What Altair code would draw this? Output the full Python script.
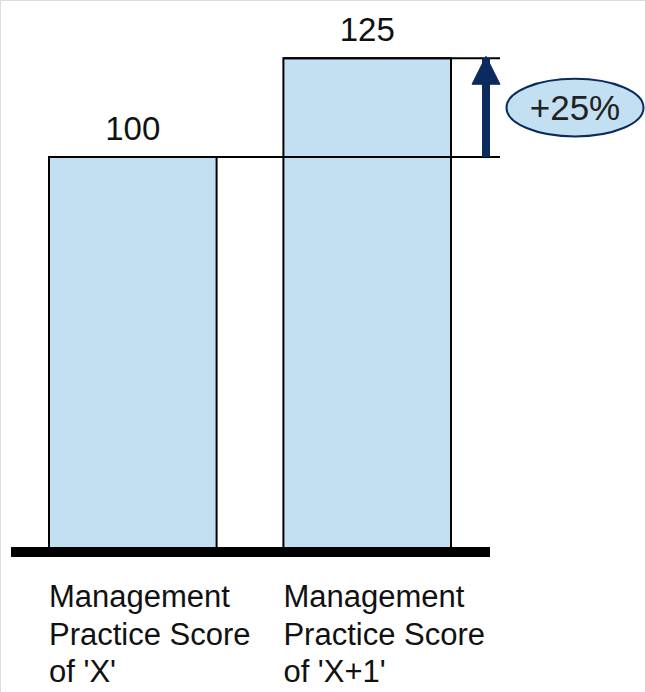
import altair as alt
import pandas as pd

# Categories, scores and the multi-line labels under each bar
categories = ["X", "X+1"]
scores = [100, 125]
labels = [
    "Management\nPractice Score\nof 'X'",
    "Management\nPractice Score\nof 'X+1'",
]

FONT = "Liberation Sans"
BAR_FILL = "#c3dff2"
NAVY = "#0b2a5e"

bars_df = pd.DataFrame({"cat": categories, "score": scores, "label": labels})

base_score, new_score = scores[0], scores[1]
change_df = pd.DataFrame({
    "base": [base_score],
    "new": [new_score],
    "mid": [(base_score + new_score) / 2],
    "pct": [f"+{round((new_score - base_score) / base_score * 100)}%"],
})

x_scale = alt.Scale(domain=categories, range=[49, 451], paddingInner=0.285, paddingOuter=0)
y_scale = alt.Scale(domain=[0, 125], range=[552, 58.25], zero=False, nice=False)

X = alt.X("cat:N", scale=x_scale, axis=None, sort=categories)
X_left = alt.X("cat:N", scale=x_scale, axis=None, sort=categories, bandPosition=0)
Y = alt.Y("score:Q", scale=y_scale, axis=None)

base = alt.Chart(bars_df)

bars = base.mark_bar(fill=BAR_FILL, stroke="black", strokeWidth=2).encode(x=X, y=Y)

# Guide lines running from each bar's top out to the arrow
guides = base.mark_rule(color="black", strokeWidth=2).encode(
    x=X_left, x2=alt.value(500), y=Y
)

baseline = base.mark_rule(color="black", strokeWidth=10).encode(
    x=alt.value(11), x2=alt.value(490),
    y=alt.Y(datum=0, scale=y_scale, axis=None),
)

value_text = base.mark_text(
    font=FONT, fontSize=33, color="#111", baseline="alphabetic", dy=-17
).encode(x=X, y=Y, text="score:Q")

cat_text = base.mark_text(
    font=FONT, fontSize=31, color="#111", align="left", baseline="alphabetic",
    lineBreak="\n", lineHeight=37.5, dy=55,
).encode(
    x=X_left,
    y=alt.Y(datum=0, scale=y_scale, axis=None),
    text="label:N",
)

chg = alt.Chart(change_df)

shaft = chg.mark_rule(color=NAVY, strokeWidth=8).encode(
    x=alt.value(486),
    y=alt.Y("base:Q", scale=y_scale, axis=None),
    y2=alt.Y2("new:Q"),
)

head = chg.mark_point(
    shape="M0,0L1,2L-1,2Z", size=784, filled=True, fill=NAVY, stroke=NAVY,
    strokeWidth=1, opacity=1, yOffset=-2,
).encode(x=alt.value(486), y=alt.Y("new:Q", scale=y_scale, axis=None))

ellipse = chg.mark_point(
    shape="M-1,0A1,0.42,0,1,1,1,0A1,0.42,0,1,1,-1,0Z", size=18769,
    filled=True, fill=BAR_FILL, stroke=NAVY, strokeWidth=2, opacity=1,
).encode(x=alt.value(575), y=alt.Y("mid:Q", scale=y_scale, axis=None))

pct_text = chg.mark_text(
    font=FONT, fontSize=35, color="#222", align="center", baseline="middle", dy=1
).encode(
    x=alt.value(575),
    y=alt.Y("mid:Q", scale=y_scale, axis=None),
    text="pct:N",
)

chart = (
    alt.layer(bars, guides, baseline, value_text, cat_text, shaft, head, ellipse, pct_text)
    .properties(width=645, height=692, padding=0, autosize=alt.AutoSizeParams(type="none"))
    .configure_view(stroke=None)
    .configure(background="white")
)

chart.save("out.html", embed_options={"renderer": "svg", "actions": False})
